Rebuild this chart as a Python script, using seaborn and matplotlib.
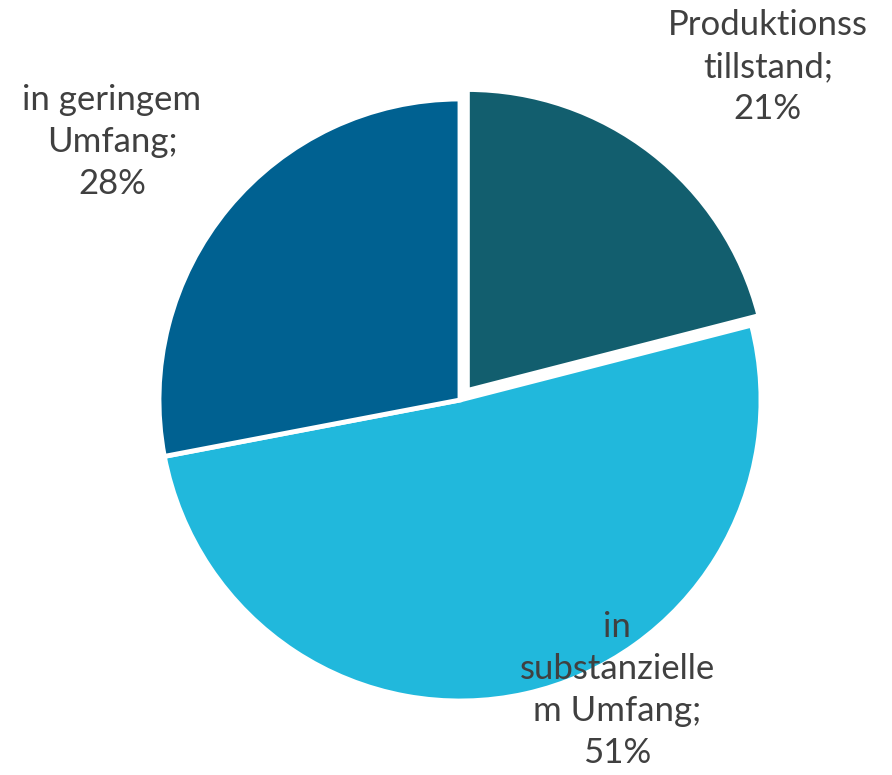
import matplotlib.pyplot as plt
import seaborn as sns

# data
categories = ["Produktionss\ntillstand", "in\nsubstanzielle\nm Umfang", "in geringem\nUmfang"]
shares = [21, 51, 28]
colors = ["#125E6E", "#21B8DC", "#006191"]

sns.set_theme(style="white")
plt.rcParams["font.family"] = ["Lato", "DejaVu Sans"]

fig = plt.figure(figsize=(8.92, 7.75), dpi=100)
# pie centre at ~(460, 400) px, radius ~301 px
ax = fig.add_axes([(460 - 301) / 892, (775 - 400 - 301) / 775, 602 / 892, 602 / 775])

wedges, _ = ax.pie(
    shares,
    colors=sns.color_palette(colors),
    startangle=90,
    counterclock=False,
    explode=[0.04, 0, 0],
    radius=1,
    wedgeprops=dict(edgecolor="white", linewidth=3.5),
)
ax.set_xlim(-1, 1)
ax.set_ylim(-1, 1)
ax.set_aspect("equal")

# label positions (data units, r = 1)
label_pos = [(1.023, 1.106), (0.522, -0.963), (-1.156, 0.857)]
for (x, y), cat, val in zip(label_pos, categories, shares):
    ax.text(x, y, f"{cat};\n{val}%", ha="center", va="center",
            fontsize=25, color="#404040", linespacing=1.38, clip_on=False)

fig.savefig("out.png", dpi=100)
